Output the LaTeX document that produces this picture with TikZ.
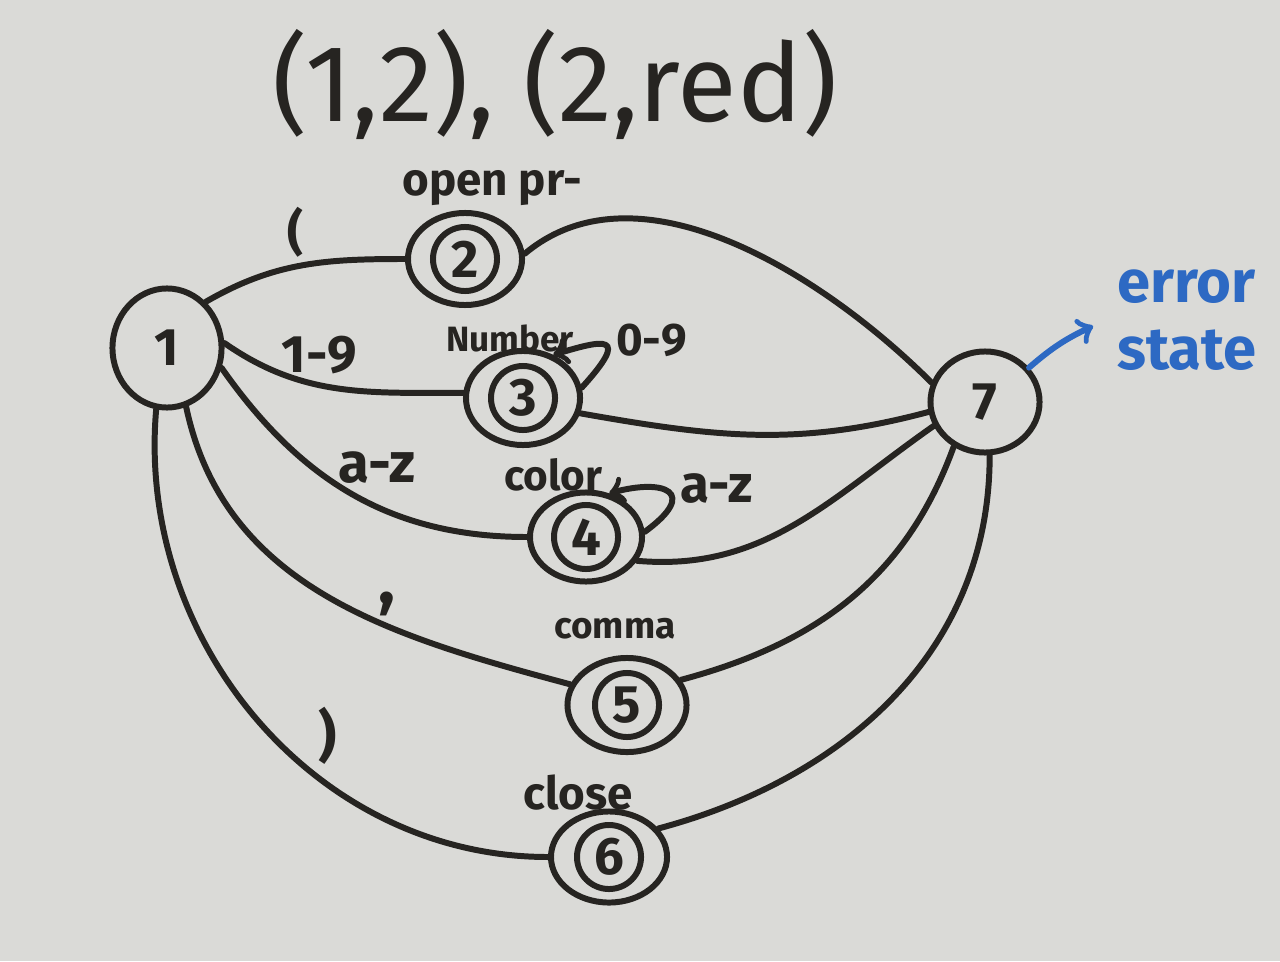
\documentclass[tikz,border=0pt]{standalone}
\usepackage{fontspec}
\setmainfont{Fira Sans}
\usetikzlibrary{shapes.geometric,arrows}
\usetikzlibrary{positioning}
\definecolor{board}{RGB}{218,218,215}
\definecolor{ink}{RGB}{38,36,33}
\definecolor{marker}{RGB}{45,105,195}
\tikzstyle{state} = [ellipse, draw=ink, line width=1.7pt, inner sep=0pt, text=ink,
font=\fontsize{15}{15}\selectfont\bfseries]
\tikzstyle{final} = [path picture={\draw[ink, line width=1.7pt] (path picture bounding box.center) circle (0.32cm);}]
\tikzstyle{line} = [draw, color=ink, line width=1.7pt, line cap=round]
\tikzstyle{loopline} = [line, -to]
\tikzstyle{tag} = [text=ink, inner sep=1pt, font=\fontsize{13}{13}\selectfont\bfseries]
\tikzstyle{note} = [draw, color=marker, line width=1.7pt, line cap=round, -to]

\begin{document}
\begin{tikzpicture}[x=0.01cm, y=0.01cm]
	\path [use as bounding box, fill=board] (0,0) rectangle (1280,-961);
	\node [tag, font=\fontsize{31}{31}\selectfont] (title) at (555,-84) {(1,2), (2,red)};
	%% States
	\node [state, minimum width=1.09cm, minimum height=1.19cm] (n1) at (167,-348) {1};
	\node [state, final, minimum width=1.14cm, minimum height=0.92cm] (n2) at (465,-259) {2};
	\node [state, final, minimum width=1.14cm, minimum height=0.94cm] (n3) at (523,-398) {3};
	\node [state, final, minimum width=1.12cm, minimum height=0.89cm] (n4) at (586,-537) {4};
	\node [state, final, minimum width=1.19cm, minimum height=0.94cm] (n5) at (627,-705) {5};
	\node [state, final, minimum width=1.16cm, minimum height=0.91cm] (n6) at (609,-857) {6};
	\node [state, minimum width=1.09cm, minimum height=1.01cm] (n7) at (985,-402) {7};
	%% Names
	\node [tag, above=0pt of n2, xshift=0.27cm] (t2) {open pr-};
	\node [tag, font=\fontsize{10}{10}\selectfont\bfseries, above=-0.08cm of n3, xshift=-0.13cm] (t3) {Number};
	\node [tag, font=\fontsize{12}{12}\selectfont\bfseries, above=-0.06cm of n4, xshift=-0.33cm] (t4) {color};
	\node [tag, font=\fontsize{10.5}{10.5}\selectfont\bfseries, above=0.12cm of n5, xshift=-0.12cm] (t5) {comma};
	\node [tag, font=\fontsize{13}{13}\selectfont\bfseries, above=-0.06cm of n6, xshift=-0.31cm] (t6) {close};
	\node [text=marker, align=left, font=\fontsize{17}{19}\selectfont\bfseries] (err) at (1187,-320) {error\\state};
	%% Flows
	\path [line] (n1.50) to[out=30, in=180] node [tag, pos=0.47, yshift=0.34cm, font=\fontsize{14}{14}\selectfont\bfseries] {(} (n2.west);
	\path [line] (n2.5) to[out=40, in=135, looseness=0.9] (n7.160);
	\path [line] (n1.5) to[out=-35, in=180] node [tag, pos=0.42, yshift=0.3cm, font=\fontsize{15}{15}\selectfont\bfseries] {1-9} (n3.175);
	\path [line] (n3.-15) to[out=-10, in=195] (n7.190);
	\path [line] (n1.-20) to[out=-55, in=180] node [tag, pos=0.58, yshift=0.39cm, font=\fontsize{16}{16}\selectfont\bfseries] {a-z} (n4.west);
	\path [line] (n4.-25) to[out=-5, in=215] (n7.205);
	\path [line] (n1.-72) to[out=-78, in=165] node [tag, pos=0.64, yshift=0.22cm, font=\fontsize{20}{20}\selectfont\bfseries] {,} (n5.160);
	\path [line] (n5.25) to[out=15, in=250] (n7.235);
	\path [line] (n1.-100) to[out=-95, in=180] node [tag, pos=0.6, xshift=0.24cm, yshift=0.3cm, font=\fontsize{16}{16}\selectfont\bfseries] {)} (n6.west);
	\path [line] (n6.30) to[out=15, in=-90] (n7.275);
	%% Loops
	\path [loopline] (n3.10) .. controls +(50,55) and +(50,15) .. node [tag, pos=0.4, right=0.02cm, yshift=0.08cm, font=\fontsize{13}{13}\selectfont\bfseries] (l3) {0-9} (n3.55);
	\path [loopline] (n4.5) .. controls +(55,40) and +(55,15) .. node [tag, pos=0.4, right=0.02cm, yshift=0.08cm, font=\fontsize{15}{15}\selectfont\bfseries] (l4) {a-z} (n4.62);
	%% Remark
	\path [note] (n7.38) to[bend left=8] ([xshift=-0.12cm, yshift=-0.06cm]err.west);
\end{tikzpicture}
\end{document}
